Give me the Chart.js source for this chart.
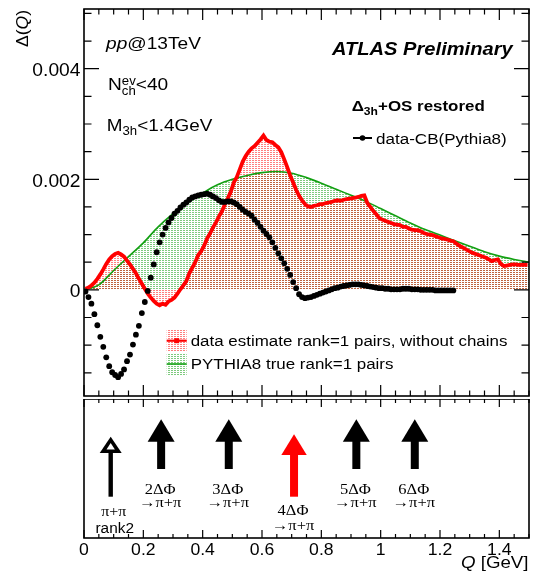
<!DOCTYPE html>
<html>
<head>
<meta charset="utf-8">
<script src="https://cdn.jsdelivr.net/npm/chart.js@4.4.0/dist/chart.umd.min.js"></script>
<style>
  html, body { margin: 0; padding: 0; background: #fff; }
  #wrap { position: relative; width: 533px; height: 575px; background: #fff; overflow: hidden; }
  #wrap canvas { position: absolute; left: 0; }
  #top { top: 0; }
  #bottom { top: 399px; }
</style>
</head>
<body>
<div id="wrap">
  <canvas id="top" width="533" height="400"></canvas>
  <canvas id="bottom" width="533" height="176"></canvas>
</div>
<script>
// Delta(Q) for rank=1 pairs, histograms in 0.01 GeV bins, values in units of 1e-5
const UNIT = 1e-5;
const BIN = 0.01;

const blackVals = [
  -3, -13, -25, -44, -64, -85, -103, -122, -138, -149,
  -154, -158, -152, -144, -129, -117, -99, -81, -65, -42,
  -22, -2, 22, 46, 68, 86, 100, 112, 122, 130,
  138, 143, 149, 154, 158, 163, 167, 169, 171, 172,
  173, 174, 172, 169, 166, 162, 159, 159, 160, 160,
  158, 155, 150, 145, 141, 138, 134, 127, 121, 114,
  107, 101, 95, 86, 76, 66, 57, 48, 38, 27,
  14, 3, -8, -13, -15, -14, -13, -11, -9, -7,
  -5, -3, -1, 1, 3, 4, 6, 7, 8, 9,
  10, 10, 10, 9, 8, 7, 6, 5, 4, 3,
  3, 2, 2, 1, 1, 1, 1, 2, 2, 2,
  1, 1, 1, 0, 0, 0, 0, 0, -1, -1,
  -1, -1, -1, -1, -1
];

const redVals = [
  2, 4, 8, 13, 20, 28, 37, 47, 55, 61,
  65, 67, 64, 60, 53, 46, 38, 30, 20, 11,
  2, -7, -14, -20, -25, -28, -25, -27, -21, -18,
  -14, -7, 1, 8, 16, 30, 40, 50, 63, 70,
  80, 93, 102, 113, 122, 133, 142, 155, 166, 178,
  194, 204, 218, 232, 242, 250, 256, 260, 266, 272,
  279, 271, 268, 267, 262, 258, 249, 236, 222, 207,
  194, 181, 170, 162, 155, 151, 150, 152, 153, 155,
  155, 157, 158, 159, 161, 162, 161, 163, 164, 165,
  166, 167, 168, 170, 171, 157, 150, 143, 137, 130,
  127, 125, 123, 121, 119, 118, 117, 114, 114, 111,
  109, 108, 108, 106, 103, 101, 100, 99, 97, 95,
  93, 92, 91, 89, 88, 84, 80, 77, 74, 71,
  68, 66, 64, 62, 60, 58, 55, 52, 54, 55,
  47, 43, 44, 45, 46, 46, 45, 45, 45, 45
];

const greenQ = [
  0, 0.05, 0.1, 0.15, 0.2, 0.25, 0.3, 0.35, 0.4, 0.45, 0.5,
  0.55, 0.6, 0.65, 0.7, 0.75, 0.8, 0.85, 0.9, 0.95, 1.0,
  1.05, 1.1, 1.15, 1.2, 1.25, 1.3, 1.35, 1.4, 1.45, 1.5
];
const greenVals = [
  0, 9, 35, 60, 85, 114, 138, 158, 175, 190, 200,
  207, 212, 214, 211, 203, 193, 182, 171, 160, 147,
  134, 121, 109, 99, 89, 79, 69, 61, 55, 50
];

const xTickVals = [0, 0.2, 0.4, 0.6, 0.8, 1.0, 1.2, 1.4];
const xTickLabels = ['0', '0.2', '0.4', '0.6', '0.8', '1', '1.2', '1.4'];
const yTickVals = [0, 0.002, 0.004];
const yTickLabels = ['0', '0.002', '0.004'];

// decay-step markers in the lower pad
const arrowQ = [0.09, 0.26, 0.488, 0.708, 0.918, 1.115];
const arrowKind = ['open', 'black', 'black', 'red', 'black', 'black'];
const arrowText = [
  ['π+π', 'rank2'],
  ['2ΔΦ', '→π+π'],
  ['3ΔΦ', '→π+π'],
  ['4ΔΦ', '→π+π'],
  ['5ΔΦ', '→π+π'],
  ['6ΔΦ', '→π+π']
];

const RED = '#ff0000';
const GREEN = '#12a012';
const SANS = "'Liberation Sans', Arial, Helvetica, sans-serif";
const SERIF = "'Liberation Serif', 'Times New Roman', serif";
const SX = 1.1; // slightly wide lettering

const centers = n => Array.from({ length: n }, (_, i) => +(BIN / 2 + i * BIN).toFixed(3));
const pts = (xs, ys) => xs.map((x, i) => ({ x: x, y: ys[i] * UNIT }));

function font(size, style) {
  return (style ? style + ' ' : '') + size + 'px ' + SANS;
}

function textWidth(ctx, str, f) {
  ctx.save();
  ctx.font = f;
  const w = ctx.measureText(str).width * SX;
  ctx.restore();
  return w;
}

function put(ctx, str, x, y, f, color, align) {
  const w = textWidth(ctx, str, f);
  let x0 = x;
  if (align === 'center') x0 = x - w / 2;
  if (align === 'right') x0 = x - w;
  ctx.save();
  ctx.font = f;
  ctx.fillStyle = color || '#000';
  ctx.textAlign = 'left';
  ctx.textBaseline = 'alphabetic';
  ctx.translate(x0, y);
  ctx.scale(SX, 1);
  ctx.fillText(str, 0, 0);
  ctx.restore();
  return w;
}

// dotted fill like the ROOT hatch style
function dotPattern(ctx, color) {
  const c = document.createElement('canvas');
  c.width = 3;
  c.height = 2;
  const g = c.getContext('2d');
  g.fillStyle = color;
  g.fillRect(0, 0, 2, 1);
  return ctx.createPattern(c, 'repeat');
}

const topCtx = document.getElementById('top').getContext('2d');
const redFill = dotPattern(topCtx, 'rgba(255,0,0,0.5)');
const greenFill = dotPattern(topCtx, 'rgba(0,150,0,0.5)');

function drawTicks(ctx, a, x, y, xMajorLen, xMinorLen, withY) {
  ctx.save();
  ctx.strokeStyle = '#000';
  ctx.lineWidth = 1.2;
  ctx.beginPath();
  for (let i = 0; i <= 30; i++) {
    const px = x.getPixelForValue(i * 0.05);
    const len = i % 4 === 0 ? xMajorLen : xMinorLen;
    ctx.moveTo(px, a.top); ctx.lineTo(px, a.top + len);
    ctx.moveTo(px, a.bottom); ctx.lineTo(px, a.bottom - len);
  }
  if (withY) {
    for (let i = -3; i <= 10; i++) {
      const py = y.getPixelForValue(i * 0.0005);
      if (py < a.top - 0.5 || py > a.bottom + 0.5) continue;
      const len = i % 4 === 0 ? 15 : 7.5;
      ctx.moveTo(a.left, py); ctx.lineTo(a.left + len, py);
      ctx.moveTo(a.right, py); ctx.lineTo(a.right - len, py);
    }
  }
  ctx.stroke();
  ctx.lineWidth = 1.6;
  ctx.strokeRect(a.left, a.top, a.right - a.left, a.bottom - a.top);
  ctx.restore();
}

const topDecor = {
  id: 'topDecor',
  afterDraw(chart) {
    const { ctx, chartArea: a, scales: { x, y } } = chart;
    drawTicks(ctx, a, x, y, 11, 5.5, true);

    // y tick labels
    yTickVals.forEach((v, i) => {
      put(ctx, yTickLabels[i], 80.5, y.getPixelForValue(v) + 7.6, font(17.5), '#000', 'right');
    });

    // y title, rotated
    ctx.save();
    ctx.translate(28, 47);
    ctx.rotate(-Math.PI / 2);
    let cx = 0;
    cx += put(ctx, 'Δ(', cx, 0, font(16));
    cx += put(ctx, 'Q', cx, 0, font(16, 'italic'));
    put(ctx, ')', cx, 0, font(16));
    ctx.restore();

    // labels at top left
    let tx = 106;
    tx += put(ctx, 'pp', tx, 49.3, font(17.4, 'italic'));
    put(ctx, '@13TeV', tx, 49.3, font(17.4));

    tx = 108;
    tx += put(ctx, 'N', tx, 89.5, font(17.4));
    const wSup = put(ctx, 'ev', tx, 85, font(12));
    const wSub = put(ctx, 'ch', tx, 95, font(12));
    put(ctx, '<40', tx + Math.max(wSup, wSub), 89.5, font(17.4));

    tx = 106.7;
    tx += put(ctx, 'M', tx, 130.7, font(17.2));
    tx += put(ctx, '3h', tx, 135, font(12));
    put(ctx, '<1.4GeV', tx, 130.7, font(17.2));

    put(ctx, 'ATLAS Preliminary', 332, 55, font(18.3, 'italic bold'));

    tx = 351.7;
    tx += put(ctx, 'Δ', tx, 111, font(15.4, 'bold'));
    tx += put(ctx, '3h', tx, 115, font(11, 'bold'));
    put(ctx, '+OS restored', tx, 111, font(15.4, 'bold'));

    // legend: black points
    const ds = chart.data.datasets;
    ctx.save();
    ctx.strokeStyle = '#000';
    ctx.lineWidth = 2;
    ctx.beginPath();
    ctx.moveTo(353, 138); ctx.lineTo(372, 138);
    ctx.stroke();
    ctx.fillStyle = '#000';
    ctx.beginPath();
    ctx.arc(362.5, 138, 2.8, 0, Math.PI * 2);
    ctx.fill();
    ctx.restore();
    put(ctx, ds[2].label, 376, 144, font(15.5));

    // legend: filled histograms
    ctx.save();
    ctx.fillStyle = redFill;
    ctx.fillRect(166.7, 330, 20, 22);
    ctx.fillStyle = greenFill;
    ctx.fillRect(166.7, 354, 20, 21);
    ctx.strokeStyle = RED;
    ctx.lineWidth = 2.2;
    ctx.beginPath();
    ctx.moveTo(166.7, 340.7); ctx.lineTo(186.7, 340.7);
    ctx.stroke();
    ctx.fillStyle = RED;
    ctx.fillRect(174.2, 338.2, 5, 5);
    ctx.strokeStyle = GREEN;
    ctx.lineWidth = 1.6;
    ctx.beginPath();
    ctx.moveTo(166.7, 364); ctx.lineTo(186.7, 364);
    ctx.stroke();
    ctx.restore();
    put(ctx, ds[0].label, 190.7, 345.7, font(15.4));
    put(ctx, ds[1].label, 190.7, 369.4, font(15.4));
  }
};

new Chart(topCtx, {
  type: 'line',
  data: {
    datasets: [
      {
        label: 'data estimate rank=1 pairs, without chains',
        data: pts(centers(redVals.length), redVals),
        borderColor: RED,
        borderWidth: 3.8,
        backgroundColor: redFill,
        fill: 'origin',
        pointRadius: 0,
        tension: 0,
        order: 1
      },
      {
        label: 'PYTHIA8 true rank=1 pairs',
        data: pts(greenQ, greenVals),
        borderColor: GREEN,
        borderWidth: 1.6,
        backgroundColor: greenFill,
        fill: 'origin',
        pointRadius: 0,
        cubicInterpolationMode: 'monotone',
        order: 2
      },
      {
        label: 'data-CB(Pythia8)',
        data: pts(centers(blackVals.length), blackVals),
        showLine: false,
        pointRadius: 2.9,
        pointBackgroundColor: '#000',
        pointBorderWidth: 0,
        fill: false,
        order: 0
      }
    ]
  },
  options: {
    responsive: false,
    animation: false,
    devicePixelRatio: 1,
    layout: { padding: { top: 9, bottom: 1, right: 4, left: 0 } },
    plugins: {
      legend: { display: false },
      tooltip: { enabled: false },
      filler: { propagate: false, drawTime: 'beforeDatasetsDraw' }
    },
    scales: {
      x: { type: 'linear', min: 0, max: 1.5, display: false },
      y: {
        type: 'linear',
        min: -0.00192,
        max: 0.00508,
        grid: { display: false },
        border: { display: false },
        ticks: { display: false },
        afterBuildTicks: s => { s.ticks = yTickVals.map(v => ({ value: v })); },
        afterFit: s => { s.width = 84; }
      }
    }
  },
  plugins: [topDecor]
});

const bottomDecor = {
  id: 'bottomDecor',
  afterDraw(chart) {
    const { ctx, chartArea: a, scales: { x, y } } = chart;
    drawTicks(ctx, a, x, y, 8, 4, false);

    xTickVals.forEach((v, i) => {
      put(ctx, xTickLabels[i], x.getPixelForValue(v), 155.5, font(16), '#000', 'center');
    });
    const wQ = textWidth(ctx, 'Q', font(17, 'italic'));
    const wG = textWidth(ctx, ' [GeV]', font(17));
    put(ctx, 'Q', 528.5 - wG - wQ, 168.5, font(17, 'italic'));
    put(ctx, ' [GeV]', 528.5 - wG, 168.5, font(17));

    arrowQ.forEach((q, i) => {
      const px = x.getPixelForValue(q);
      const kind = arrowKind[i];
      ctx.save();
      if (kind === 'open') {
        ctx.fillStyle = '#000';
        ctx.fillRect(px - 2.2, 50, 4.4, 47.7);
        ctx.beginPath();
        ctx.moveTo(px, 37.7); ctx.lineTo(px + 11, 54); ctx.lineTo(px - 11, 54);
        ctx.closePath();
        ctx.fill();
        ctx.fillStyle = '#fff';
        ctx.beginPath();
        ctx.moveTo(px, 44); ctx.lineTo(px + 4.2, 50.5); ctx.lineTo(px - 4.2, 50.5);
        ctx.closePath();
        ctx.fill();
        ctx.restore();
        put(ctx, arrowText[i][0], px + 3, 117, '14.5px ' + SERIF, '#000', 'center');
        put(ctx, arrowText[i][1], px + 4, 134.3, font(14), '#000', 'center');
        return;
      }
      const red = kind === 'red';
      const tip = red ? 35.3 : 20.3;
      const base = red ? 56 : 42.7;
      const end = red ? 97.7 : 70;
      const half = red ? 12.7 : 13.5;
      ctx.fillStyle = red ? RED : '#000';
      ctx.fillRect(px - 4, base - 1, 8, end - base + 1);
      ctx.beginPath();
      ctx.moveTo(px, tip); ctx.lineTo(px + half, base); ctx.lineTo(px - half, base);
      ctx.closePath();
      ctx.fill();
      ctx.restore();
      const y1 = red ? 116 : 95;
      const y2 = red ? 131 : 107.7;
      put(ctx, arrowText[i][0], px - 1, y1, '15px ' + SERIF, '#000', 'center');
      put(ctx, arrowText[i][1], px - 1, y2, '15px ' + SERIF, '#000', 'center');
    });
  }
};

new Chart(document.getElementById('bottom').getContext('2d'), {
  type: 'line',
  data: { datasets: [] },
  options: {
    responsive: false,
    animation: false,
    devicePixelRatio: 1,
    layout: { padding: { top: 0, bottom: 0, right: 4, left: 84 } },
    plugins: { legend: { display: false }, tooltip: { enabled: false } },
    scales: {
      x: {
        type: 'linear',
        min: 0,
        max: 1.5,
        grid: { display: false },
        border: { display: false },
        ticks: { display: false },
        afterBuildTicks: s => { s.ticks = xTickVals.map(v => ({ value: v })); },
        afterFit: s => { s.height = 37; }
      },
      y: { type: 'linear', min: 0, max: 1, display: false }
    }
  },
  plugins: [bottomDecor]
});
</script>
</body>
</html>
